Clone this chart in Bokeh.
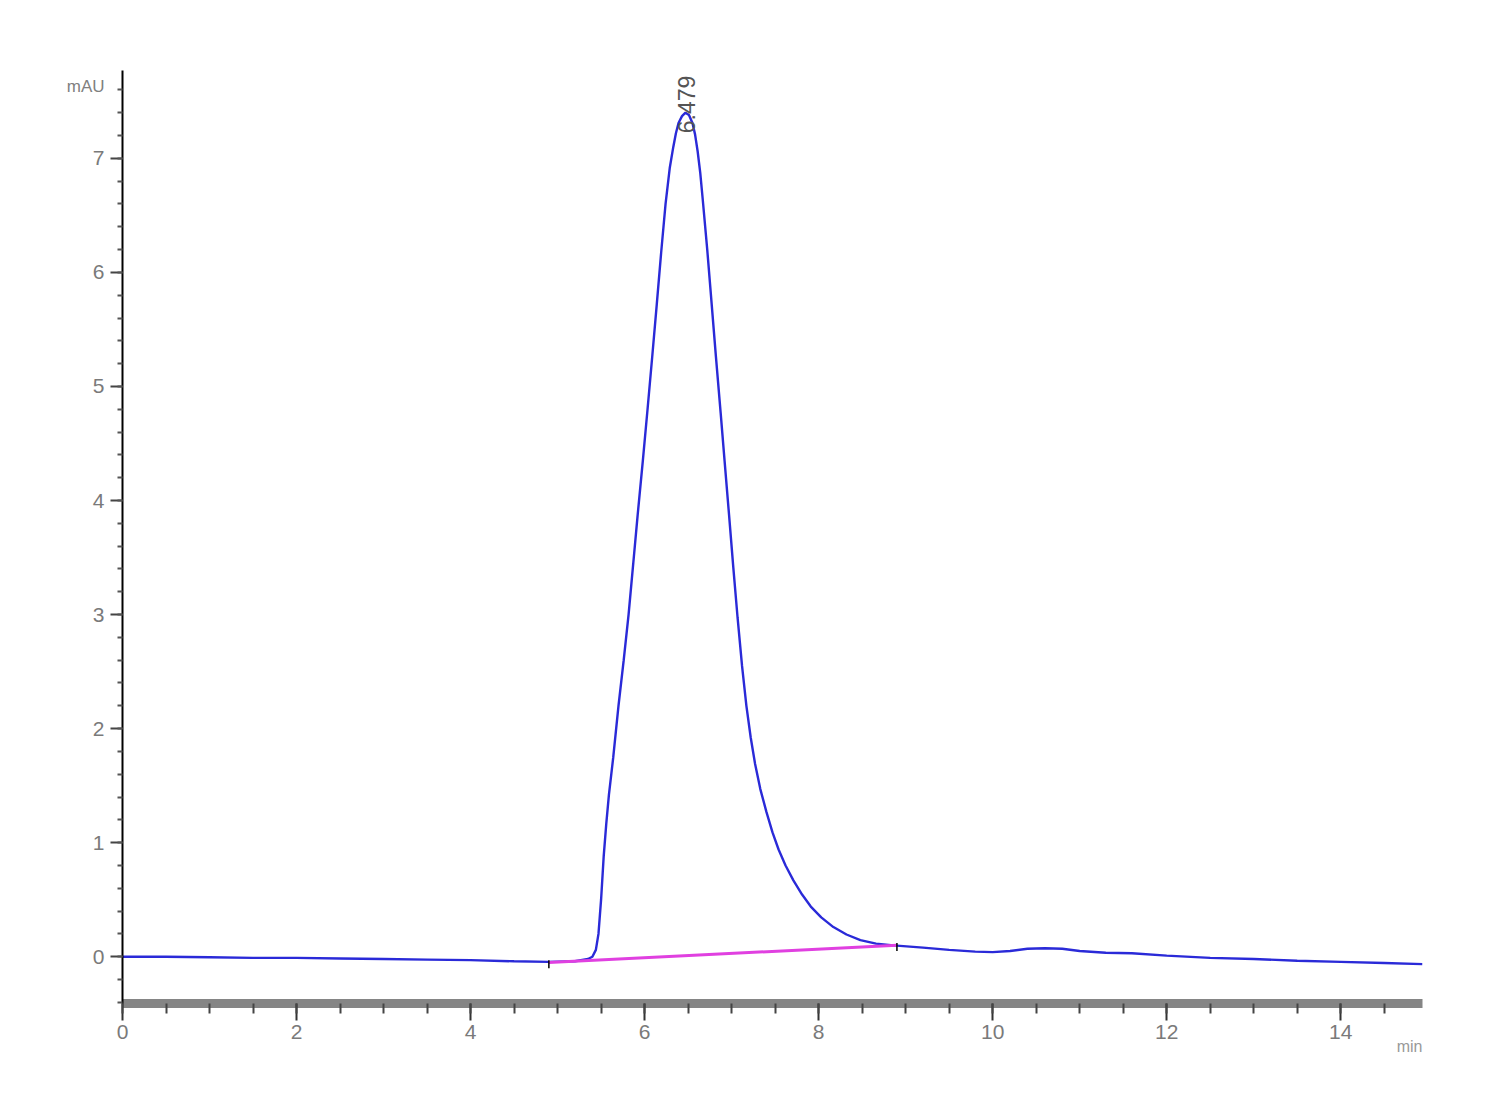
from math import pi
from bokeh.plotting import figure
from bokeh.models import (SingleIntervalTicker, FixedTicker, LinearAxis,
                          ColumnDataSource, Title)
from bokeh.embed import file_html
from bokeh.resources import INLINE
from bokeh.core.properties import value

# ---- data ----
time_min = [0, 0.5, 1, 1.5, 2, 2.5, 3, 3.5, 4, 4.5, 4.9, 5.2, 5.35, 5.40, 5.44,
            5.47, 5.50, 5.53, 5.56, 5.59, 5.64, 5.70, 5.76, 5.816, 5.87, 5.92,
            5.98, 6.034, 6.09, 6.14, 6.19, 6.241, 6.29, 6.33, 6.36, 6.39, 6.43,
            6.47, 6.51, 6.55, 6.58, 6.61, 6.64, 6.667, 6.72, 6.77, 6.82, 6.874,
            6.92, 6.97, 7.02, 7.069, 7.12, 7.17, 7.22, 7.27, 7.33, 7.40, 7.47,
            7.54, 7.62, 7.71, 7.81, 7.91, 8.03, 8.17, 8.32, 8.48, 8.66, 8.86,
            9.2, 9.5, 9.8, 10.0, 10.2, 10.4, 10.6, 10.8, 11.0, 11.3, 11.6, 12.0,
            12.5, 13.0, 13.5, 14.0, 14.5, 14.94]
signal_mau = [0.0, 0.0, -0.005, -0.01, -0.01, -0.015, -0.02, -0.025, -0.03, -0.04,
              -0.045, -0.04, -0.02, 0.0, 0.06, 0.2, 0.5, 0.88, 1.17, 1.42, 1.75,
              2.2, 2.6, 3.0, 3.45, 3.87, 4.35, 4.8, 5.28, 5.72, 6.17, 6.6, 6.92,
              7.1, 7.22, 7.31, 7.37, 7.40, 7.38, 7.31, 7.21, 7.06, 6.87, 6.65, 6.2,
              5.73, 5.26, 4.77, 4.34, 3.88, 3.41, 2.97, 2.55, 2.2, 1.92, 1.69,
              1.47, 1.27, 1.09, 0.94, 0.80, 0.67, 0.545, 0.44, 0.345, 0.26, 0.195,
              0.145, 0.115, 0.10, 0.08, 0.06, 0.045, 0.04, 0.05, 0.07, 0.075,
              0.07, 0.05, 0.035, 0.03, 0.01, -0.01, -0.02, -0.035, -0.045, -0.055,
              -0.065]

baseline_t = [4.9, 8.9]
baseline_y = [-0.05, 0.1]

peak_rt = [6.479]
peak_label_y = [7.22]
peak_labels = ["6.479"]

y_unit_pos = [7.63]
y_unit_label = "mAU"
x_unit_label = "min"

x_start, x_end = 0, 14.94
y_start, y_end = -0.41, 7.77

p = figure(width=1492, height=1063, output_backend="svg", toolbar_location=None,
           x_range=(x_start, x_end), y_range=(y_start, y_end),
           min_border_left=122, min_border_right=70, min_border_top=70,
           min_border_bottom=60)
p.outline_line_color = None
p.xgrid.visible = False
p.ygrid.visible = False
p.background_fill_color = "white"
p.border_fill_color = "white"

# y axis
p.yaxis.ticker = SingleIntervalTicker(interval=1, num_minor_ticks=5)
p.yaxis.axis_line_color = "black"
p.yaxis.axis_line_width = 2
p.yaxis.major_tick_out = 12
p.yaxis.major_tick_in = 0
p.yaxis.major_tick_line_width = 2
p.yaxis.major_tick_line_color = "#444444"
p.yaxis.minor_tick_out = 5
p.yaxis.minor_tick_in = 0
p.yaxis.minor_tick_line_width = 2
p.yaxis.minor_tick_line_color = "#555555"
p.yaxis.major_label_text_font = "Liberation Sans"
p.yaxis.major_label_text_font_size = "21px"
p.yaxis.major_label_text_color = "#7a7a7a"
p.yaxis.major_label_standoff = 6

# unit label of the y axis, as a label-only axis
unit_axis = LinearAxis(ticker=FixedTicker(ticks=y_unit_pos, minor_ticks=[]),
                       major_label_overrides={y_unit_pos[0]: y_unit_label})
unit_axis.axis_line_color = None
unit_axis.major_tick_line_color = None
unit_axis.minor_tick_line_color = None
unit_axis.major_tick_out = 0
unit_axis.major_tick_in = 0
unit_axis.major_label_standoff = -15
unit_axis.major_label_text_font = "Liberation Sans"
unit_axis.major_label_text_font_size = "17px"
unit_axis.major_label_text_color = "#808080"
p.add_layout(unit_axis, "left")

# x axis
p.xaxis.ticker = SingleIntervalTicker(interval=2, num_minor_ticks=4)
p.xaxis.axis_line_color = "#858585"
p.xaxis.axis_line_width = 9
p.xaxis.major_tick_out = 17
p.xaxis.major_tick_in = 0
p.xaxis.major_tick_line_width = 2
p.xaxis.major_tick_line_color = "#333333"
p.xaxis.minor_tick_out = 10
p.xaxis.minor_tick_in = 0
p.xaxis.minor_tick_line_width = 2
p.xaxis.minor_tick_line_color = "#444444"
p.xaxis.major_label_text_font = "Liberation Sans"
p.xaxis.major_label_text_font_size = "21px"
p.xaxis.major_label_text_color = "#7a7a7a"
p.xaxis.major_label_standoff = 4

# signal
p.line(time_min, signal_mau, line_color="#2a2ad8", line_width=2.4)

# baseline
p.line(baseline_t, baseline_y, line_color="#e040e0", line_width=3)
p.segment(x0=baseline_t, y0=[v - 0.05 for v in baseline_y],
          x1=baseline_t, y1=[v + 0.02 for v in baseline_y],
          line_color="black", line_width=1.5)

# peak label
src = ColumnDataSource(dict(x=peak_rt, y=peak_label_y, t=peak_labels))
p.text(x="x", y="y", text="t", source=src, angle=pi / 2,
       text_align="left", text_baseline="middle",
       text_font=value("Liberation Sans"), text_font_size="23px",
       text_color="#555555")

p.add_layout(Title(text=x_unit_label, align="right", text_font="Liberation Sans",
                   text_font_size="16px", text_color="#999999",
                   text_font_style="normal", standoff=-12), "below")

open("out.html", "w").write(file_html(p, INLINE))
